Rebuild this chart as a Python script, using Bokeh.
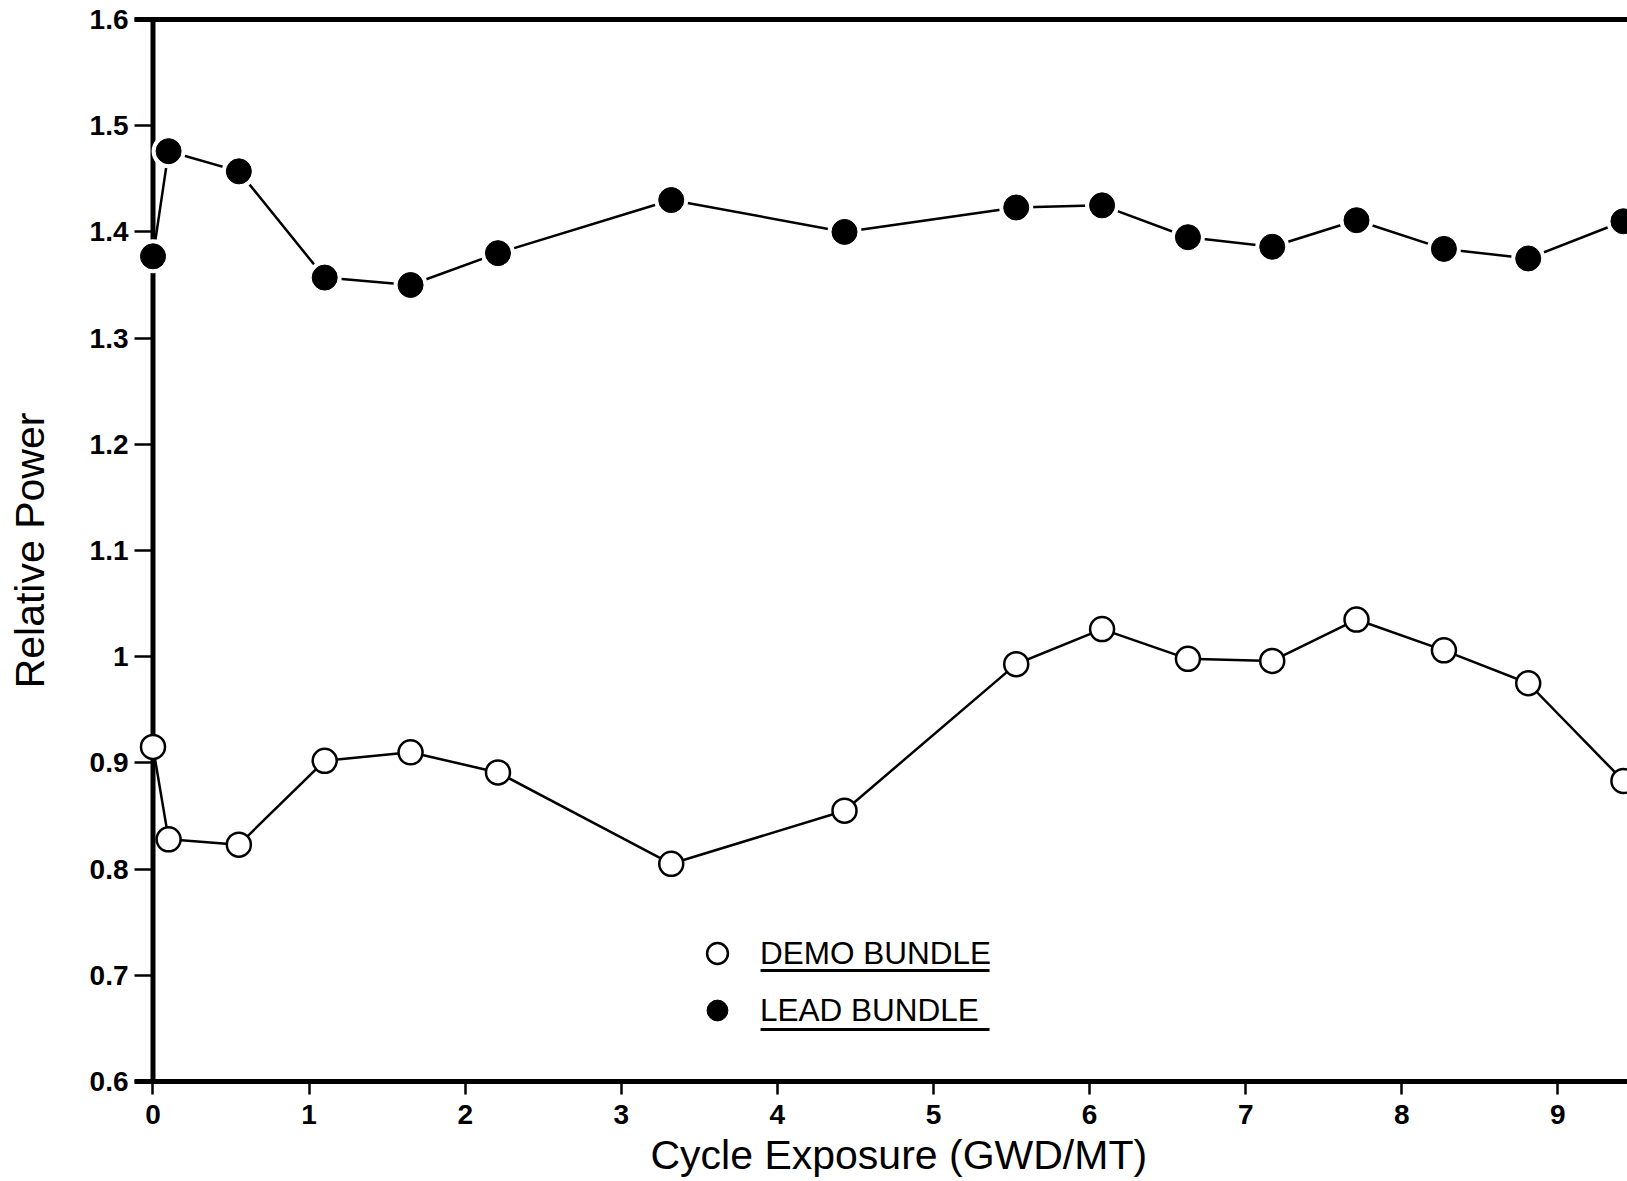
from bokeh.plotting import figure
from bokeh.models import (Range1d, LinearAxis, FixedTicker, Span, Legend,
                          LegendItem, BoxAnnotation, Title)
from bokeh.embed import file_html
from bokeh.resources import INLINE

# Cycle exposure (GWD/MT) at each measurement
exposure = [0.0, 0.10, 0.55, 1.10, 1.65, 2.21, 3.32, 4.43, 5.53, 6.08,
            6.63, 7.17, 7.71, 8.27, 8.81, 9.42]
# Relative power of the demo bundle
demo_power = [0.915, 0.828, 0.823, 0.902, 0.910, 0.891, 0.805, 0.855, 0.993,
              1.026, 0.998, 0.996, 1.035, 1.006, 0.975, 0.883]
# Relative power of the lead bundle
lead_power = [1.377, 1.476, 1.457, 1.357, 1.350, 1.380, 1.430, 1.400, 1.423,
              1.425, 1.395, 1.386, 1.411, 1.384, 1.375, 1.410]

x_ticks = [0, 1, 2, 3, 4, 5, 6, 7, 8, 9]
x_tick_labels = ["0", "1", "2", "3", "4", "5", "6", "7", "8", "9"]
y_ticks = [0.6, 0.7, 0.8, 0.9, 1.0, 1.1, 1.2, 1.3, 1.4, 1.5, 1.6]
y_tick_labels = ["0.6", "0.7", "0.8", "0.9", "1", "1.1", "1.2", "1.3",
                 "1.4", "1.5", "1.6"]

FONT = "Liberation Sans"

p = figure(width=1627, height=1181,
           x_range=Range1d(-0.1185, 9.446), y_range=Range1d(0.6, 1.6),
           output_backend="svg", toolbar_location=None,
           min_border_left=134, min_border_right=0,
           min_border_top=19, min_border_bottom=100,
           y_axis_label="Relative Power")
p.outline_line_color = None
p.grid.visible = False
p.background_fill_color = "white"
p.border_fill_color = "white"

# bottom axis
xa = p.xaxis[0]
xa.ticker = FixedTicker(ticks=x_ticks)
xa.major_label_overrides = dict(zip(x_ticks, x_tick_labels))
xa.axis_line_width = 5
xa.axis_line_color = "black"
xa.major_tick_out = 13
xa.major_tick_in = 0
xa.major_tick_line_width = 2.5
xa.minor_tick_line_color = None
xa.major_label_standoff = 10
xa.major_label_text_font = FONT
xa.major_label_text_font_style = "bold"
xa.major_label_text_font_size = "28px"
xa.major_label_text_color = "black"

# x-axis caption, set slightly right of the frame centre
p.add_layout(Title(text="Cycle Exposure (GWD/MT)", align="left", offset=516,
                   text_font=FONT, text_font_style="normal",
                   text_font_size="41px", text_color="black", standoff=7),
             "below")

# left axis: ticks reach in to the vertical line at x = 0
ya = p.yaxis[0]
ya.ticker = FixedTicker(ticks=y_ticks)
ya.major_label_overrides = dict(zip(y_ticks, y_tick_labels))
ya.axis_line_color = None
ya.major_tick_in = 19
ya.major_tick_out = 0
ya.major_tick_line_width = 2.5
ya.minor_tick_line_color = None
ya.major_label_standoff = 6
ya.major_label_text_font = FONT
ya.major_label_text_font_style = "bold"
ya.major_label_text_font_size = "28px"
ya.major_label_text_color = "black"
ya.axis_label_text_font = FONT
ya.axis_label_text_font_style = "normal"
ya.axis_label_text_font_size = "41px"
ya.axis_label_text_color = "black"
ya.axis_label_standoff = 34

# top frame line
top = LinearAxis(ticker=FixedTicker(ticks=[]), axis_line_width=5,
                 axis_line_color="black", major_tick_line_color=None,
                 minor_tick_line_color=None, major_label_text_font_size="0px")
p.add_layout(top, "above")

# vertical axis line at zero exposure
p.add_layout(Span(location=0, dimension="height", line_color="black",
                  line_width=5, level="underlay"))

p.line(exposure, demo_power, line_color="black", line_width=2.5)
p.line(exposure, lead_power, line_color="black", line_width=2.5)

lead_halo = p.scatter(exposure, lead_power, size=34, fill_color="white",
                      line_color=None)
lead_r = p.scatter(exposure, lead_power, size=25, fill_color="black",
                   line_color="black", line_width=1)
demo_r = p.scatter(exposure, demo_power, size=24, fill_color="white",
                   line_color="black", line_width=2.5)

legend = Legend(items=[LegendItem(label="DEMO BUNDLE", renderers=[demo_r]),
                       LegendItem(label="LEAD BUNDLE",
                                  renderers=[lead_halo, lead_r])],
                location=(557, 45), orientation="vertical",
                glyph_width=52, glyph_height=52, spacing=5,
                label_standoff=17, padding=0, margin=0,
                border_line_color=None, background_fill_alpha=0,
                label_text_font=FONT, label_text_font_size="31.5px",
                label_text_font_style="normal", label_text_color="black")
p.add_layout(legend)

# underlines beneath the legend labels
p.add_layout(BoxAnnotation(left=3.892, right=5.359, bottom=0.7031, top=0.7059,
                           fill_color="black", fill_alpha=1,
                           line_color=None))
p.add_layout(BoxAnnotation(left=3.892, right=5.359, bottom=0.6476, top=0.6504,
                           fill_color="black", fill_alpha=1,
                           line_color=None))

open("out.html", "w").write(file_html(p, INLINE))
